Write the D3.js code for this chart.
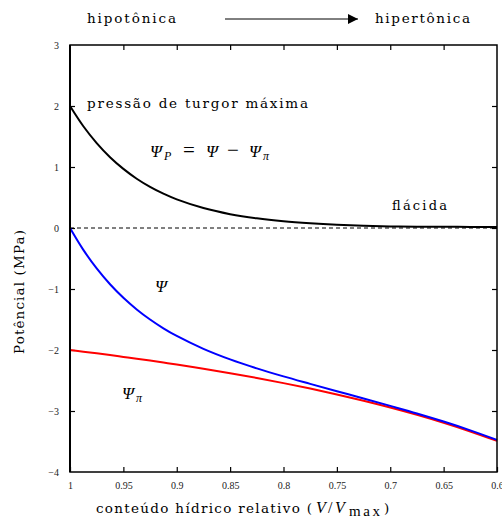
<!DOCTYPE html>
<html><head><meta charset="utf-8">
<script src="https://cdn.jsdelivr.net/npm/d3@7"></script>
<style>
body{margin:0;background:#fff;}
</style></head><body>
<svg id="c" width="502" height="519"></svg>
<script>
// Data
const rwc      = [1, 0.9875, 0.975, 0.9625, 0.95, 0.9375, 0.925, 0.9125, 0.9, 0.875, 0.85, 0.825, 0.8, 0.775, 0.75, 0.725, 0.7, 0.675, 0.65, 0.625, 0.6];
const psiP     = [2.0, 1.668, 1.392, 1.161, 0.969, 0.808, 0.674, 0.562, 0.469, 0.327, 0.227, 0.158, 0.110, 0.077, 0.053, 0.037, 0.026, 0.022, 0.020, 0.018, 0.016];
const psiPi    = [-2.0, -2.027, -2.055, -2.083, -2.113, -2.143, -2.174, -2.206, -2.239, -2.308, -2.381, -2.459, -2.543, -2.632, -2.728, -2.831, -2.942, -3.062, -3.193, -3.335, -3.490];
const psi      = [0.0, -0.359, -0.663, -0.922, -1.144, -1.335, -1.500, -1.644, -1.770, -1.981, -2.154, -2.301, -2.433, -2.555, -2.675, -2.794, -2.916, -3.040, -3.173, -3.317, -3.474];
const xTicks   = [1, 0.95, 0.9, 0.85, 0.8, 0.75, 0.7, 0.65, 0.6];
const xTickLabels = ["1", "0.95", "0.9", "0.85", "0.8", "0.75", "0.7", "0.65", "0.6"];
const yTicks   = [-4, -3, -2, -1, 0, 1, 2, 3];
const yTickLabels = ["\u22124", "\u22123", "\u22122", "\u22121", "0", "1", "2", "3"];

const SERIF = "'DejaVu Serif', 'Liberation Serif', serif";
const MATH = "'Liberation Serif', 'DejaVu Serif', serif";
const svg = d3.select("#c").attr("font-family", SERIF);
const L = 70, R = 497, T = 45, B = 472;
const x = d3.scaleLinear().domain([1, 0.6]).range([L, R]);
const y = d3.scaleLinear().domain([-4, 3]).range([B, T]);

const gx = svg.append("g").attr("transform", `translate(0,${B})`)
  .call(d3.axisBottom(x).tickValues(xTicks).tickSizeInner(-5).tickSizeOuter(0).tickPadding(10)
    .tickFormat((d,i)=>xTickLabels[i]));
gx.select(".domain").remove();
gx.attr("font-family", MATH).attr("font-size", 10);
gx.selectAll("text").attr("fill", "#222");
const gxt = svg.append("g").attr("transform", `translate(0,${T})`)
  .call(d3.axisTop(x).tickValues(xTicks.slice(1,-1)).tickSizeInner(-5).tickSizeOuter(0).tickFormat(""));
gxt.select(".domain").remove();

const gy = svg.append("g").attr("transform", `translate(${L},0)`)
  .call(d3.axisLeft(y).tickValues(yTicks).tickSizeInner(-5).tickSizeOuter(0).tickPadding(11)
    .tickFormat((d,i)=>yTickLabels[i]));
gy.select(".domain").remove();
gy.attr("font-family", MATH).attr("font-size", 10);
gy.selectAll("text").attr("fill", "#222");
gy.selectAll(".tick").filter(d => d === 3 || d === -4).select("line").remove();
const gyr = svg.append("g").attr("transform", `translate(${R},0)`)
  .call(d3.axisRight(y).tickValues(yTicks.slice(1,-1)).tickSizeInner(-5).tickSizeOuter(0).tickFormat(""));
gyr.select(".domain").remove();
svg.selectAll(".tick line").attr("stroke", "#000").attr("stroke-width", 1.2);

svg.append("line").attr("x1", x(1)).attr("x2", x(0.6)).attr("y1", y(0)).attr("y2", y(0))
  .attr("stroke", "#000").attr("stroke-width", 1).attr("stroke-dasharray", "4,3");

const pts = arr => rwc.map((v,i)=>[v, arr[i]]);
const line = d3.line().x(d=>x(d[0])).y(d=>y(d[1])).curve(d3.curveCatmullRom.alpha(0.5));
svg.append("path").attr("d", line(pts(psiP))).attr("fill","none").attr("stroke","#000").attr("stroke-width",2);
svg.append("path").attr("d", line(pts(psiPi))).attr("fill","none").attr("stroke","#ff0000").attr("stroke-width",2);
svg.append("path").attr("d", line(pts(psi))).attr("fill","none").attr("stroke","#0000ff").attr("stroke-width",2);

svg.append("rect").attr("x", L).attr("y", T).attr("width", R-L).attr("height", B-T)
  .attr("fill","none").attr("stroke","#000").attr("stroke-width",1.5);
svg.append("line").attr("x1", L).attr("x2", L).attr("y1", T).attr("y2", B).attr("stroke","#000").attr("stroke-width",2);

const defs = svg.append("defs");
defs.append("marker").attr("id","ah").attr("viewBox","0 0 10 10").attr("refX",10).attr("refY",5)
  .attr("markerWidth",12).attr("markerHeight",10).attr("markerUnits","userSpaceOnUse").attr("orient","auto")
  .append("path").attr("d","M0,0L10,5L0,10Z").attr("fill","#000");
svg.append("line").attr("x1",225).attr("x2",358).attr("y1",19).attr("y2",19)
  .attr("stroke","#000").attr("stroke-width",1).attr("marker-end","url(#ah)");

function spaced(txt, x0, yb, len, size) {
  return svg.append("text").attr("x", x0).attr("y", yb).attr("font-size", size).attr("font-family", SERIF)
    .attr("textLength", len).attr("lengthAdjust", "spacing").attr("fill", "#000").text(txt);
}
spaced("hipotônica", 87, 23, 89, 13.5);
spaced("hipertônica", 375, 23, 95, 13.5);
spaced("pressão de turgor máxima", 87, 108, 221, 13.5);
spaced("flácida", 392, 210, 55, 13);

function sym(parent, xx, txt, size, italic, dy) {
  const t = parent.append("tspan").attr("x", xx).attr("font-size", size).text(txt);
  if (italic) t.attr("font-style", "italic");
  if (dy !== undefined) t.attr("dy", dy);
  return t;
}
const eq = svg.append("text").attr("y", 157).attr("font-family", MATH).attr("fill","#000");
sym(eq, 150, "Ψ", 17, true);
sym(eq, 164, "P", 12, true, 3);
sym(eq, 183, "=", 21, false, -3);
sym(eq, 206, "Ψ", 17, true);
sym(eq, 227, "−", 21, false);
sym(eq, 249, "Ψ", 17, true);
sym(eq, 263, "π", 12, true, 3);

svg.append("text").attr("x",155).attr("y",292).attr("font-size",17).attr("font-family", MATH).attr("font-style","italic").text("Ψ");
const pl = svg.append("text").attr("y",399).attr("font-family", MATH);
sym(pl, 122, "Ψ", 17, true);
sym(pl, 136, "π", 12, true, 3);

svg.append("text").attr("transform","translate(24,292) rotate(-90)").attr("text-anchor","middle")
  .attr("font-family", SERIF).attr("font-size",13.5).attr("textLength",124).attr("lengthAdjust","spacing").text("Potêncial (MPa)");
const xt = svg.append("text").attr("y",513).attr("font-size",13.5).attr("font-family", SERIF);
xt.append("tspan").attr("x",96).attr("textLength",216).attr("lengthAdjust","spacing").text("conteúdo hídrico relativo (");
const xm = svg.append("text").attr("y",513).attr("font-family", MATH);
sym(xm, 316, "V", 16, true);
sym(xm, 328, "/", 16, false);
sym(xm, 335, "V", 16, true);
xm.append("tspan").attr("x",349).attr("dy",3).attr("font-size",15).attr("textLength",31).attr("lengthAdjust","spacing").text("max");
sym(xt, 384, ")", 13.5, false);
</script>
</body></html>
